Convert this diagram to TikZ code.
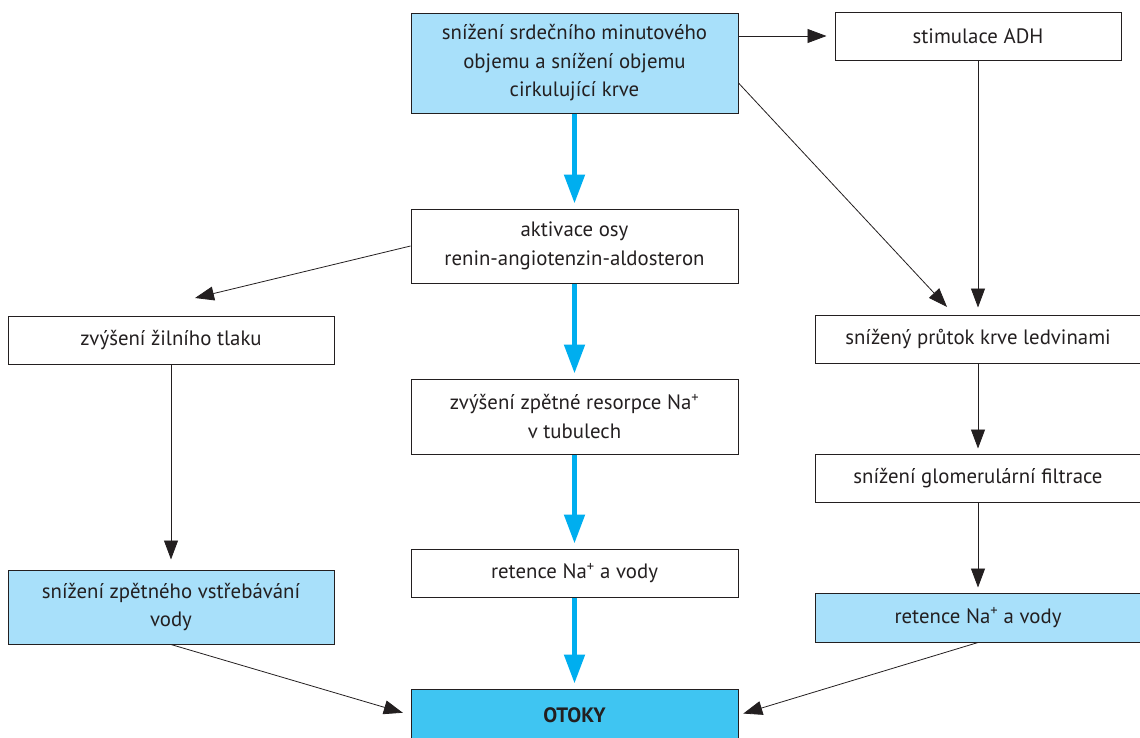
\documentclass[tikz,border=0pt]{standalone}
\usepackage{fontspec}
\setmainfont{PT Sans}
\usetikzlibrary{arrows.meta}
\definecolor{ink}{HTML}{231F20}
\definecolor{lightblue}{HTML}{A8E0FA}
\definecolor{otokyblue}{HTML}{3FC5F2}
\definecolor{arrowblue}{HTML}{00AEEF}
\tikzset{
  box/.style={draw=ink, line width=1pt, text=ink, align=center, inner sep=0pt,
    font=\fontsize{20.8}{28.5}\selectfont},
  hl/.style={box, fill=lightblue},
  blk/.style={draw=ink, line width=0.8pt, -{Triangle[length=19pt,width=14pt]}, shorten >=6pt},
  blu/.style={draw=arrowblue, line width=5pt, -{Triangle[length=29pt,width=20pt]}, shorten >=5pt},
}
\begin{document}
\begin{tikzpicture}[x=1pt,y=-1pt]
\useasboundingbox (0,0) rectangle (1140,737);
% center column
\node[hl, minimum width=327pt, minimum height=100pt] (b1) at (574.5,63) {snížení srdečního minutového\\objemu a snížení objemu\\cirkulující krve};
\node[box, minimum width=327pt, minimum height=74pt] (b2) at (574.5,246) {aktivace osy\\renin-angiotenzin-aldosteron};
\node[box, minimum width=327pt, minimum height=75pt] (b3) at (574.5,416.5) {zvýšení zpětné resorpce Na\textsuperscript{+}\\v tubulech};
\node[box, minimum width=327pt, minimum height=48pt] (b4) at (574.5,573) {retence Na\textsuperscript{+} a vody};
\node[box, fill=otokyblue, minimum width=327pt, minimum height=52pt, font=\fontsize{20.8}{28.5}\selectfont\bfseries] (otoky) at (574.5,715) {OTOKY};
% right column
\node[box, minimum width=286pt, minimum height=48pt] (adh) at (978,36) {stimulace ADH};
\node[box, minimum width=326pt, minimum height=48pt] (r1) at (978,339) {snížený průtok krve ledvinami};
\node[box, minimum width=326pt, minimum height=48pt] (r2) at (978,478) {snížení glomerulární filtrace};
\node[hl, minimum width=326pt, minimum height=49pt] (r3) at (978,617.5) {retence Na\textsuperscript{+} a vody};
% left column
\node[box, minimum width=326pt, minimum height=48pt] (l1) at (171,340) {zvýšení žilního tlaku};
\node[hl, minimum width=326pt, minimum height=74pt] (l2) at (171,607) {snížení zpětného vstřebávání\\vody};
\coordinate (lt) at (195,298);
\coordinate (dg) at (954.5,315);
% blue connectors
\draw[blu] (b1) -- (b2);
\draw[blu] (b2) -- (b3);
\draw[blu] (b3) -- (b4);
\draw[blu] (b4) -- (otoky);
% black connectors
\draw[blk, shorten >=8pt] (b1.east |- adh.west) -- (adh.west);
\draw[blk, shorten >=11pt] ([yshift=-20pt]b1.east) -- (dg);
\draw[blk, shorten >=7pt] (adh.south) -- (adh.south |- r1.north);
\draw[blk, shorten >=5pt] (r1.south) -- (r2.north);
\draw[blk, shorten >=5pt] (r2.south) -- (r3.north);
\draw[blk, shorten >=0pt] (b2.west) -- (lt);
\draw[blk, shorten >=10pt] (l1.south) -- (l2.north);
\draw[blk, shorten >=8pt] (l2.south) -- (otoky.west);
\draw[blk, shorten >=5pt] (r3.south) -- (otoky.east);
\end{tikzpicture}
\end{document}
